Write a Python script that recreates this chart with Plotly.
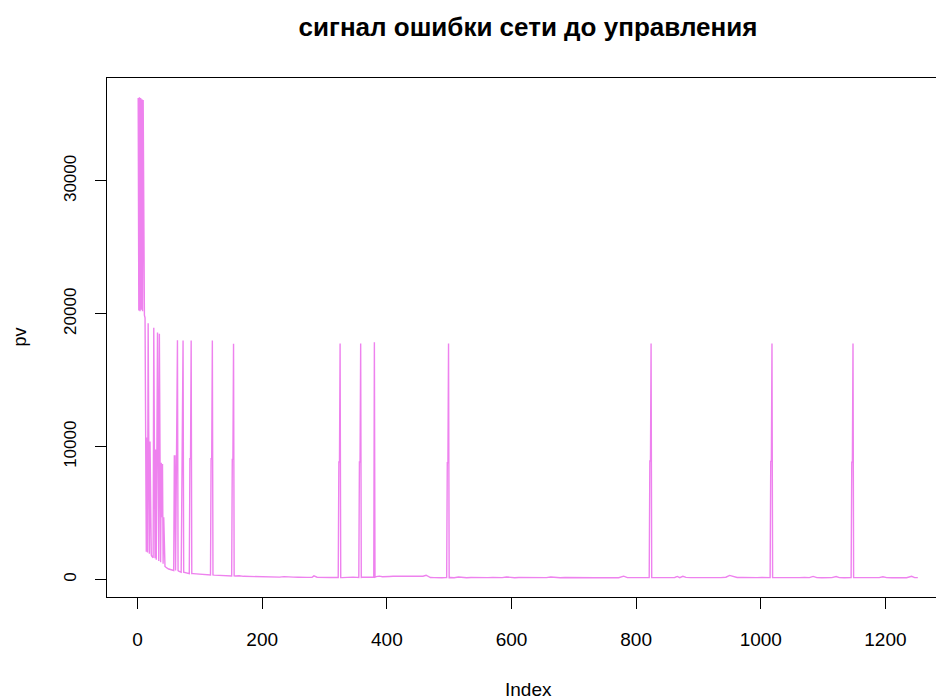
import plotly.graph_objects as go

# ---------------- data ----------------
# early transient, full resolution, index 1..48
early_idx = list(range(1, 49))
early_pv = [36250, 20250, 36300, 20200, 36250, 20300, 36150, 20200, 36100, 20100,
            19900, 19700, 10800, 2100, 10700, 2050, 19300, 10500, 1950, 10400,
            1900, 1850, 1750, 1700, 1650, 18950, 9850, 1600, 9800, 1500,
            9700, 18600, 9600, 1400, 18500, 9500, 1300, 8800, 4700, 8700,
            1200, 4700, 1100, 1000, 950, 900, 880, 850]

# baseline (floor of the error signal) after the transient
base_idx = [50, 55, 58, 66, 70, 76, 80, 84, 89, 95, 100, 106, 112, 118, 123, 130, 136, 142, 148,
            152, 157, 163, 170, 176, 183, 190, 197, 205, 212, 220, 228, 235, 243, 250, 258, 265,
            272, 280, 283, 288, 295, 302, 310, 317, 322, 328, 334, 340, 346, 352, 355, 361, 366,
            371, 376, 383, 388, 393, 398, 404, 410, 420, 430, 440, 450, 458, 463, 467, 470, 476,
            482, 488, 494, 502, 508, 515, 521, 528, 535, 541, 548, 555, 562, 570, 577, 585, 592,
            598, 605, 612, 620, 628, 636, 644, 650, 656, 663, 670, 678, 686, 694, 702, 710, 718,
            726, 734, 742, 750, 758, 766, 772, 780, 786, 794, 800, 806, 812, 818, 828, 834, 840,
            848, 855, 862, 866, 870, 875, 880, 888, 896, 904, 912, 920, 928, 936, 944, 950, 956,
            962, 970, 978, 986, 994, 1002, 1008, 1013, 1022, 1030, 1038, 1046, 1054, 1062, 1070,
            1078, 1084, 1090, 1098, 1106, 1114, 1121, 1126, 1134, 1141, 1153, 1160, 1168, 1176,
            1184, 1190, 1196, 1202, 1210, 1218, 1226, 1234, 1242, 1247, 1252]
base_pv = [800, 740, 700, 640, 600, 540, 500, 470, 450, 420, 400, 380, 360, 350, 340, 320, 330, 300, 290,
           280, 270, 290, 250, 240, 260, 230, 220, 240, 200, 210, 190, 230, 180, 190, 180, 200,
           170, 170, 280, 180, 160, 190, 160, 170, 160, 150, 170, 150, 190, 170, 160, 180, 170,
           190, 200, 230, 260, 220, 250, 240, 250, 250, 250, 250, 250, 260, 330, 250, 160, 150,
           170, 140, 150, 160, 140, 200, 150, 140, 160, 150, 170, 140, 150, 160, 140, 150, 200,
           150, 140, 160, 150, 170, 150, 140, 160, 150, 200, 150, 140, 160, 150, 140, 150, 170,
           150, 140, 150, 160, 140, 150, 140, 260, 150, 150, 160, 140, 150, 150, 150, 160, 140,
           150, 150, 160, 240, 150, 250, 170, 150, 140, 150, 160, 140, 150, 150, 180, 320, 220,
           160, 170, 150, 140, 150, 160, 150, 140, 150, 140, 160, 150, 140, 150, 160,
           150, 240, 150, 140, 150, 150, 230, 150, 140, 150, 150, 140, 150, 160,
           140, 150, 220, 150, 140, 150, 160, 140, 250, 150, 150]

# recurring error bursts: first index of the lower step (held two samples),
# lower level, peak level, floor around it
spike_at = [59, 62, 71, 84, 118, 152, 323, 356, 378, 497, 822, 1016, 1146]
spike_low = [9300, 9300, 9100, 9100, 9100, 9050, 8850, 8850, 190, 8800, 8930, 8900, 8830]
spike_high = [18350, 18020, 18000, 18000, 18000, 17750, 17760, 17760, 17860, 17760, 17760, 17760, 17760]
spike_floor = [690, 680, 560, 450, 350, 280, 160, 165, 190, 150, 150, 150, 150]

x_ticks = [0, 200, 400, 600, 800, 1000, 1200]
y_ticks = [0, 10000, 20000, 30000]

title_text = "сигнал ошибки сети до управления"
x_label = "Index"
y_label = "pv"

# ---------------- assemble series ----------------
pts = {}
for i, v in zip(early_idx, early_pv):
    pts[i] = v
for i, v in zip(base_idx, base_pv):
    pts[i] = v
for i, lo, hi, fl in zip(spike_at, spike_low, spike_high, spike_floor):
    pts[i - 1] = fl
    pts[i] = lo
    pts[i + 1] = lo
    pts[i + 2] = hi
    pts[i + 3] = fl
xs = sorted(pts)
ys = [pts[k] for k in xs]

# R-style axis extents (4% padding); the original canvas crops the right side
n_last = max(xs)
x_lo = 1 - 0.04 * (n_last - 1)
x_hi_full = n_last + 0.04 * (n_last - 1)
L, R_vis, R_full = 107, 936, 949
x_hi = x_lo + (x_hi_full - x_lo) * (R_vis - L) / (R_full - L)
ymin, ymax = min(ys), max(ys)
y_lo = ymin - 0.04 * (ymax - ymin)
y_hi = ymax + 0.04 * (ymax - ymin)

FONT = "Liberation Sans, Arial, sans-serif"

fig = go.Figure()
fig.add_trace(go.Scatter(x=xs, y=ys, mode="lines",
                         line=dict(color="#EE82EE", width=1.4),
                         hoverinfo="skip", showlegend=False))

fig.update_layout(
    width=936, height=700,
    margin=dict(l=L, r=0, t=78, b=103, pad=0),
    paper_bgcolor="white", plot_bgcolor="white",
    font=dict(family=FONT, color="black"),
    title=dict(text="<b>" + title_text + "</b>", font=dict(size=26, family=FONT, color="black"),
               xref="container", x=528 / 936, xanchor="center",
               yref="container", y=1 - 27 / 700, yanchor="middle"),
    xaxis=dict(range=[x_lo, x_hi], tickvals=x_ticks, ticktext=[str(t) for t in x_ticks],
               showgrid=False, zeroline=False, showline=True, mirror=True,
               linecolor="black", linewidth=1, ticks="outside", ticklen=11,
               tickcolor="black", tickwidth=1, tickfont=dict(size=19, family=FONT, color="black"),
               ticklabelstandoff=14),
    yaxis=dict(range=[y_lo, y_hi], tickvals=y_ticks, ticktext=[str(t) for t in y_ticks],
               showgrid=False, zeroline=False, showline=True, mirror=False,
               linecolor="black", linewidth=1, ticks="outside", ticklen=11,
               tickcolor="black", tickwidth=1, tickangle=-90,
               tickfont=dict(size=17, family=FONT, color="black"),
               ticklabelstandoff=12),
    annotations=[
        dict(text=x_label, xref="paper", yref="paper", x=(528 - L) / (R_vis - L),
             y=(597 - 689) / 519, xanchor="center", yanchor="middle", showarrow=False,
             font=dict(size=19, family=FONT, color="black")),
        dict(text=y_label, xref="paper", yref="paper", x=(19 - L) / (R_vis - L),
             y=0.5, xanchor="center", yanchor="middle", showarrow=False, textangle=-90,
             font=dict(size=18, family=FONT, color="black")),
    ],
)

fig.write_html("out.html")
